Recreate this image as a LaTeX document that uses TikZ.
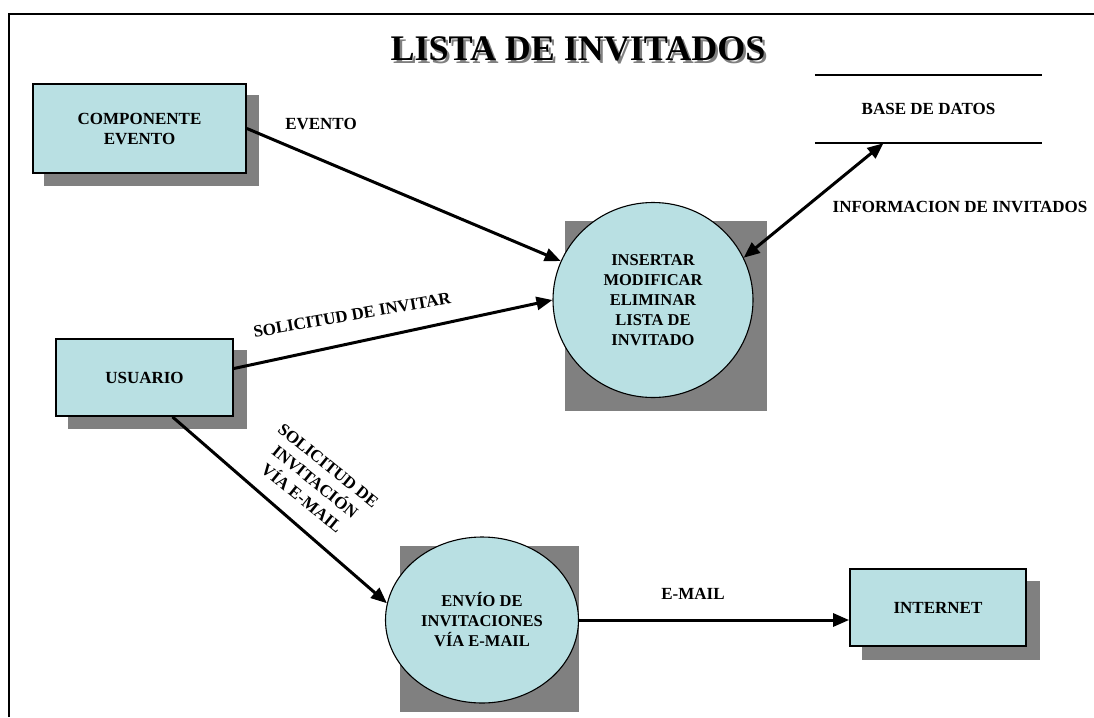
\documentclass[tikz,border=0pt]{standalone}
\usepackage{fontspec}
\setmainfont{Liberation Serif}
\usepackage{tikz}
\usetikzlibrary{positioning}
\usetikzlibrary{shapes.geometric, arrows.meta, backgrounds}
\definecolor{cajacian}{RGB}{185,224,227}
\definecolor{sombra}{RGB}{128,128,128}
\tikzstyle{arrow} = [line width=3pt,-{Triangle[length=16pt,width=13pt]}]
\tikzstyle{dblarrow} = [line width=3pt,{Triangle[length=16pt,width=13pt]}-{Triangle[length=16pt,width=13pt]}]
\tikzstyle{entidad} = [rectangle,draw,line width=1.8pt,fill=cajacian,inner sep=0pt,align=center,font=\fontsize{17}{20}\selectfont\bfseries]
\tikzstyle{proceso} = [ellipse,draw,line width=1.1pt,fill=cajacian,inner sep=0pt,align=center,font=\fontsize{16.5}{20}\selectfont\bfseries]
\tikzstyle{etiqueta} = [inner sep=0pt,align=center,font=\fontsize{17}{21}\selectfont\bfseries]

\begin{document}
\begin{tikzpicture}[x=1pt,y=-1pt]
	%Frame
	\path[use as bounding box] (0,0) rectangle (1094,717);
	\draw[line width=2.2pt] (9,717) -- (9,14) -- (1094,14);

	%Title
	\node (titulosombra) [font=\fontsize{36}{40}\selectfont\bfseries,text=sombra] at (580.5,51.5) {LISTA DE INVITADOS};
	\node (titulo) [font=\fontsize{36}{40}\selectfont\bfseries] at (578,49) {LISTA DE INVITADOS};

	%Nodes
	\node (comp) [entidad,minimum width=213,minimum height=89] at (139.5,128.5) {COMPONENTE\\EVENTO};
	\node (usuario) [entidad,minimum width=177,minimum height=77] at (144.5,377.5) {USUARIO};
	\node (internet) [entidad,minimum width=176,minimum height=77] at (938,607.5) {INTERNET};
	\node (insertar) [proceso,minimum width=200,minimum height=195] at (653,300) {INSERTAR\\MODIFICAR\\ELIMINAR\\LISTA DE\\INVITADO};
	\node (envio) [proceso,minimum width=193,minimum height=166] at (482,620) {ENVÍO DE\\INVITACIONES\\VÍA E-MAIL};
	\node (bd) [etiqueta,minimum width=227,minimum height=68] at (928.5,109) {BASE DE DATOS};
	\draw[line width=1.8pt] (bd.north west) -- (bd.north east);
	\draw[line width=1.8pt] (bd.south west) -- (bd.south east);

	%Shadows
	\begin{scope}[on background layer]
		\fill[sombra] ([shift={(12,12)}]comp.north west) rectangle ([shift={(12,12)}]comp.south east);
		\fill[sombra] ([shift={(13,12)}]usuario.north west) rectangle ([shift={(13,12)}]usuario.south east);
		\fill[sombra] ([shift={(13,13)}]internet.north west) rectangle ([shift={(13,13)}]internet.south east);
		\fill[sombra] ([shift={(-88,-79)}]insertar.center) rectangle ([shift={(114,111)}]insertar.center);
		\fill[sombra] ([shift={(-82,-74)}]envio.center) rectangle ([shift={(97,92)}]envio.center);
	\end{scope}

	%Lines
	\draw[arrow] (comp.east) -- (insertar);
	\draw[arrow] ([yshift=9pt]usuario.east) -- (insertar.west);
	\draw[arrow] ([xshift=28pt]usuario.south) -- (envio.170);
	\draw[arrow] (envio.east) -- (envio.east -| internet.west);
	\draw[dblarrow] (insertar.25) -- ([xshift=-45pt]bd.south);

	%Labels
	\node (levento) [etiqueta] at (321,124) {EVENTO};
	\node (lsolinv) [etiqueta,rotate=10] at (352,315) {SOLICITUD DE INVITAR};
	\node (lsolmail) [etiqueta,rotate=-39] at (315,482) {SOLICITUD DE\\INVITACIÓN\\VÍA E-MAIL};
	\node (lemail) [etiqueta] at (693,594) {E-MAIL};
	\node (linfo) [etiqueta] at (960,207) {INFORMACION DE INVITADOS};
\end{tikzpicture}
\end{document}
